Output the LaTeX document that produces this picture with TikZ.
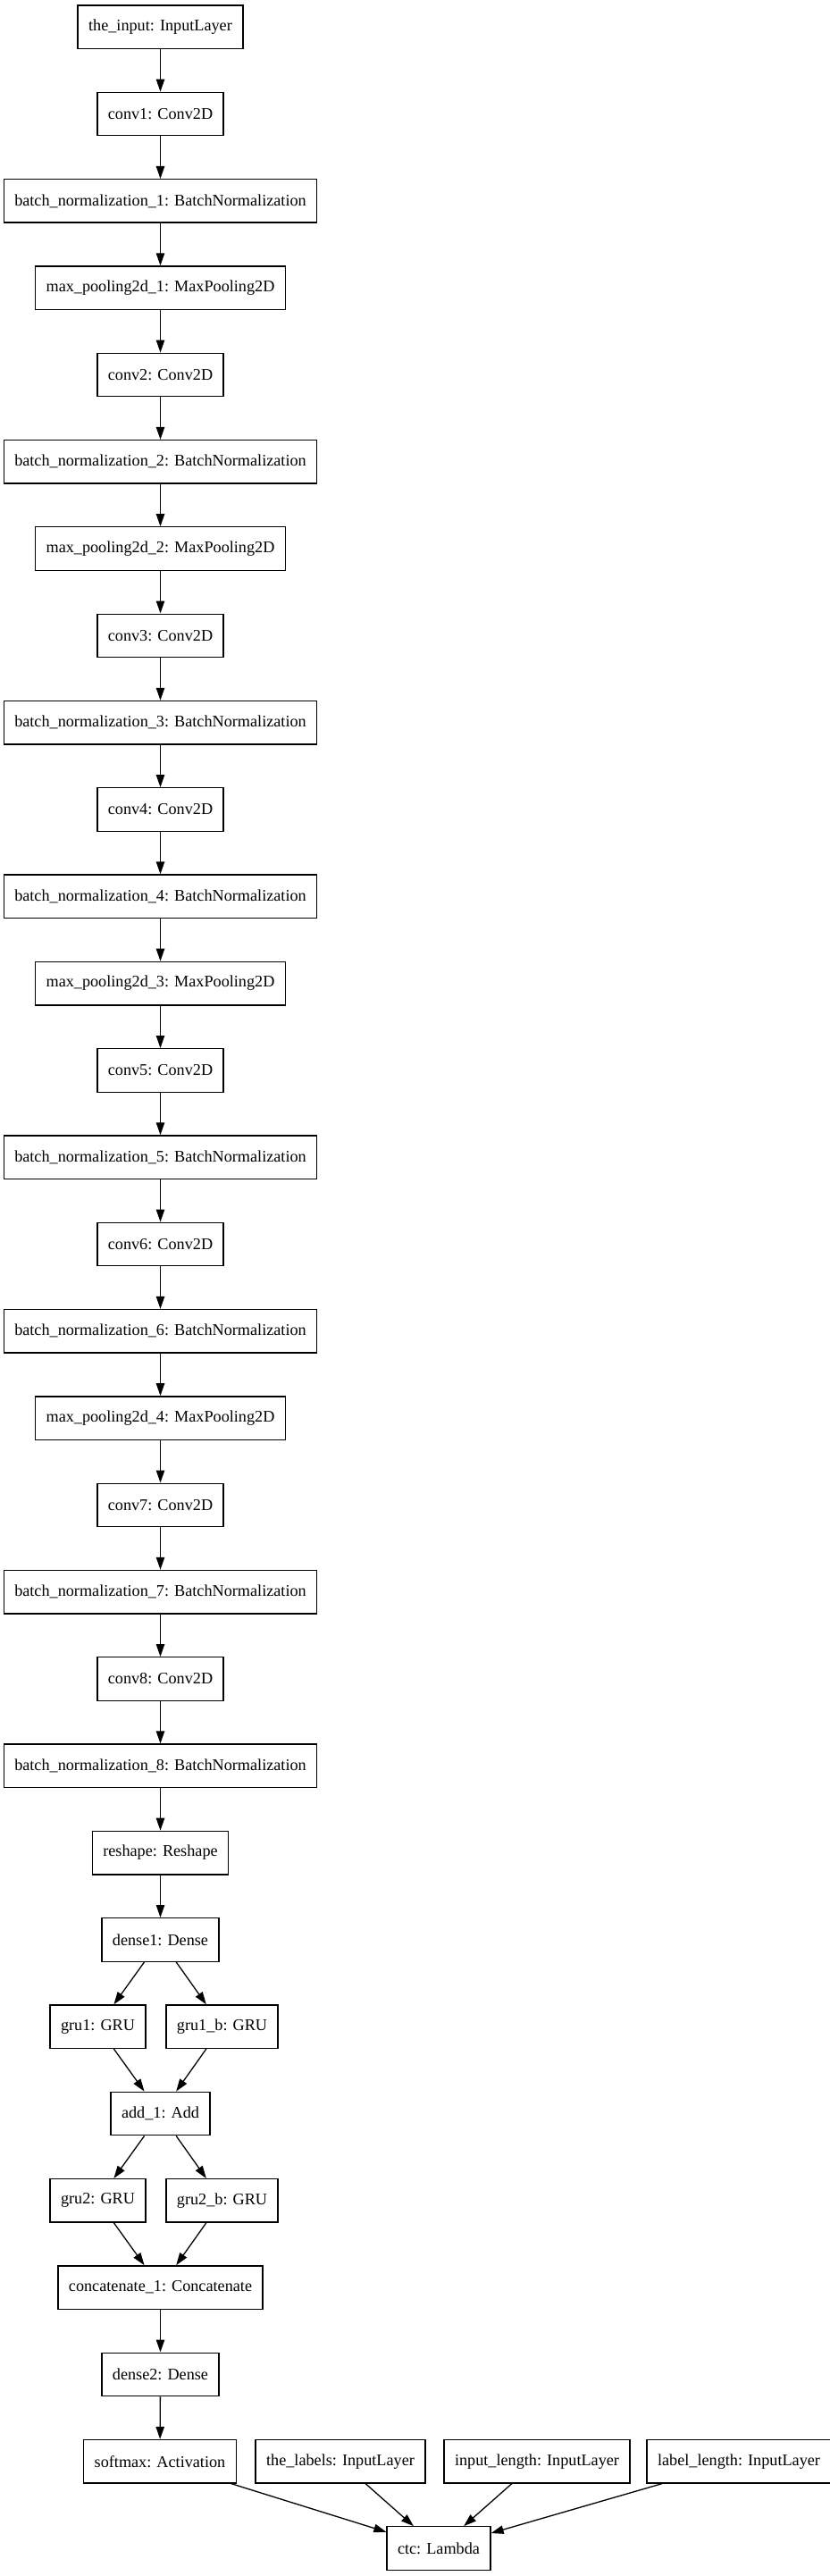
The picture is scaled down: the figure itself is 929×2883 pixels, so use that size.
\documentclass[tikz,border=0pt]{standalone}
\usepackage{fontspec}
\setmainfont{Liberation Serif}
\usepackage{tikz}
\usetikzlibrary{arrows.meta}

\tikzset{
  layer/.style={draw, line width=0.65pt, minimum height=24.25pt, inner xsep=6pt, inner ysep=0pt, font=\fontsize{9.1pt}{10pt}\selectfont},
  flow/.style={line width=0.65pt, -{Triangle[length=7pt,width=4.7pt]}}
}

\begin{document}
\begin{tikzpicture}[x=0.5pt,y=-0.5pt]
        \useasboundingbox (0,0) rectangle (929,2883);
        % 主干
        \node [layer] (input) at(179.5,30.3) {the\_input: InputLayer};
        \node [layer] (conv1) at(179.5,127.6) {conv1: Conv2D};
        \node [layer] (bn1) at(179.5,224.9) {batch\_normalization\_1: BatchNormalization};
        \node [layer] (pool1) at(179.5,322.2) {max\_pooling2d\_1: MaxPooling2D};
        \node [layer] (conv2) at(179.5,419.5) {conv2: Conv2D};
        \node [layer] (bn2) at(179.5,516.8) {batch\_normalization\_2: BatchNormalization};
        \node [layer] (pool2) at(179.5,614.1) {max\_pooling2d\_2: MaxPooling2D};
        \node [layer] (conv3) at(179.5,711.4) {conv3: Conv2D};
        \node [layer] (bn3) at(179.5,808.7) {batch\_normalization\_3: BatchNormalization};
        \node [layer] (conv4) at(179.5,906.0) {conv4: Conv2D};
        \node [layer] (bn4) at(179.5,1003.3) {batch\_normalization\_4: BatchNormalization};
        \node [layer] (pool3) at(179.5,1100.6) {max\_pooling2d\_3: MaxPooling2D};
        \node [layer] (conv5) at(179.5,1197.9) {conv5: Conv2D};
        \node [layer] (bn5) at(179.5,1295.2) {batch\_normalization\_5: BatchNormalization};
        \node [layer] (conv6) at(179.5,1392.5) {conv6: Conv2D};
        \node [layer] (bn6) at(179.5,1489.8) {batch\_normalization\_6: BatchNormalization};
        \node [layer] (pool4) at(179.5,1587.1) {max\_pooling2d\_4: MaxPooling2D};
        \node [layer] (conv7) at(179.5,1684.4) {conv7: Conv2D};
        \node [layer] (bn7) at(179.5,1781.7) {batch\_normalization\_7: BatchNormalization};
        \node [layer] (conv8) at(179.5,1879.0) {conv8: Conv2D};
        \node [layer] (bn8) at(179.5,1976.3) {batch\_normalization\_8: BatchNormalization};
        \node [layer] (reshape) at(179.5,2073.6) {reshape: Reshape};
        \node [layer] (dense1) at(179.5,2170.9) {dense1: Dense};
        % 双向GRU
        \node [layer] (gru1) at(109.5,2268.2) {gru1: GRU};
        \node [layer] (gru1b) at(248.5,2268.2) {gru1\_b: GRU};
        \node [layer] (add) at(179.5,2365.5) {add\_1: Add};
        \node [layer] (gru2) at(109.5,2462.8) {gru2: GRU};
        \node [layer] (gru2b) at(248.5,2462.8) {gru2\_b: GRU};
        \node [layer] (concat) at(179.5,2560.1) {concatenate\_1: Concatenate};
        \node [layer] (dense2) at(179.5,2657.4) {dense2: Dense};
        % 输出与CTC
        \node [layer] (softmax) at(179,2754.7) {softmax: Activation};
        \node [layer] (labels) at(381,2754.7) {the\_labels: InputLayer};
        \node [layer] (inlen) at(601,2754.7) {input\_length: InputLayer};
        \node [layer] (lablen) at(827,2754.7) {label\_length: InputLayer};
        \node [layer] (ctc) at(491,2852) {ctc: Lambda};
        % 连线
        \draw [flow] (input)--(conv1);
        \draw [flow] (conv1)--(bn1);
        \draw [flow] (bn1)--(pool1);
        \draw [flow] (pool1)--(conv2);
        \draw [flow] (conv2)--(bn2);
        \draw [flow] (bn2)--(pool2);
        \draw [flow] (pool2)--(conv3);
        \draw [flow] (conv3)--(bn3);
        \draw [flow] (bn3)--(conv4);
        \draw [flow] (conv4)--(bn4);
        \draw [flow] (bn4)--(pool3);
        \draw [flow] (pool3)--(conv5);
        \draw [flow] (conv5)--(bn5);
        \draw [flow] (bn5)--(conv6);
        \draw [flow] (conv6)--(bn6);
        \draw [flow] (bn6)--(pool4);
        \draw [flow] (pool4)--(conv7);
        \draw [flow] (conv7)--(bn7);
        \draw [flow] (bn7)--(conv8);
        \draw [flow] (conv8)--(bn8);
        \draw [flow] (bn8)--(reshape);
        \draw [flow] (reshape)--(dense1);
        \draw [flow] (dense1)--(gru1);
        \draw [flow] (dense1)--(gru1b);
        \draw [flow] (gru1)--(add);
        \draw [flow] (gru1b)--(add);
        \draw [flow] (add)--(gru2);
        \draw [flow] (add)--(gru2b);
        \draw [flow] (gru2)--(concat);
        \draw [flow] (gru2b)--(concat);
        \draw [flow] (concat)--(dense2);
        \draw [flow] (dense2)--(softmax);
        \draw [flow] (softmax)--(ctc);
        \draw [flow] (labels)--(ctc);
        \draw [flow] (inlen)--(ctc);
        \draw [flow] (lablen)--(ctc);
\end{tikzpicture}
\end{document}
